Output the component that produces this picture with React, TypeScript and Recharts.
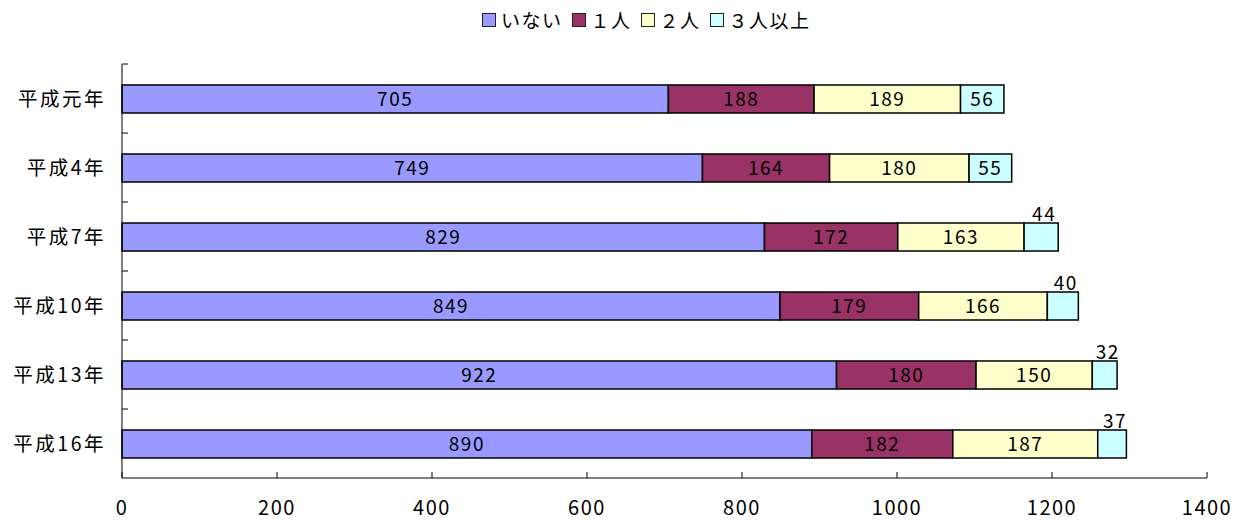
import { BarChart, Bar, XAxis, YAxis, Legend, LabelList } from "recharts";

const categories = ["平成元年", "平成4年", "平成7年", "平成10年", "平成13年", "平成16年"];
const seriesNames = ["いない", "１人", "２人", "３人以上"];
const none = [705, 749, 829, 849, 922, 890];
const one = [188, 164, 172, 179, 180, 182];
const two = [189, 180, 163, 166, 150, 187];
const threePlus = [56, 55, 44, 40, 32, 37];
const xTicks = [0, 200, 400, 600, 800, 1000, 1200, 1400];

const colors = ["#9999FF", "#993366", "#FFFFCC", "#CCFFFF"];
const font = '"Noto Sans CJK JP", "Noto Sans", sans-serif';

const W = 1241;
const H = 520;
const M = { top: 64, right: 34, bottom: 12, left: 0 };
const X_AXIS_H = 30;
const BAND = (H - M.top - M.bottom - X_AXIS_H) / categories.length;

const data = categories.map((name, i) => ({
  name,
  none: none[i],
  one: one[i],
  two: two[i],
  threePlus: threePlus[i],
}));

const XTick = ({ x, y, payload }: any) => (
  <g>
    <line x1={x} x2={x} y1={y} y2={y - 6} stroke="#000" />
    <text x={x} y={y + 37} textAnchor="middle" fontSize={20} letterSpacing={1.5} fontFamily={font} fill="#000">
      {payload.value}
    </text>
  </g>
);

const YTick = ({ x, y, payload }: any) => (
  <g>
    <line x1={x} x2={x + 6} y1={y - BAND / 2} y2={y - BAND / 2} stroke="#000" />
    <text x={x - 16} y={y} dy="0.36em" textAnchor="end" fontSize={19.5} letterSpacing={2.5} fontFamily={font} fill="#000">
      {payload.value}
    </text>
  </g>
);

const BarLabel = (props: any) => {
  const { x, y, width, height, value } = props;
  const small = width < 40;
  return (
    <text
      x={x + width / 2 + (small ? 3 : 0)}
      y={small ? y - 2 : y + height / 2}
      dy={small ? 0 : "0.36em"}
      textAnchor="middle"
      fontSize={19}
      letterSpacing={1.5}
      fontFamily={font}
      fill="#000"
    >
      {value}
    </text>
  );
};

const LegendContent = ({ payload }: any) => (
  <div style={{ display: "flex", alignItems: "center", fontFamily: font, fontSize: 19, letterSpacing: 1.5 }}>
    {(payload || []).map((p: any, i: number) => (
      <div key={i} style={{ display: "flex", alignItems: "center", marginRight: 9 }}>
        <span
          style={{
            display: "inline-block",
            width: 12,
            height: 12,
            background: p.color,
            border: "1.5px solid #222",
            marginRight: 5,
          }}
        />
        <span>{p.value}</span>
      </div>
    ))}
  </div>
);

export default function App() {
  const keys = ["none", "one", "two", "threePlus"];
  return (
    <div style={{ position: "absolute", left: 0, top: 0, width: W, height: H, background: "#fff" }}>
      <BarChart width={W} height={H} data={data} layout="vertical" margin={M}>
        <XAxis
          type="number"
          domain={[0, 1400]}
          ticks={xTicks}
          height={X_AXIS_H}
          axisLine={{ stroke: "#000" }}
          tickLine={false}
          tickSize={0}
          tickMargin={0}
          tick={<XTick />}
          interval={0}
        />
        <YAxis
          type="category"
          dataKey="name"
          width={122}
          axisLine={{ stroke: "#000" }}
          tickLine={false}
          tickSize={0}
          tickMargin={0}
          tick={<YTick />}
          interval={0}
        />
        <Legend
          verticalAlign="middle"
          align="center"
          layout="horizontal"
          wrapperStyle={{ top: 6, left: 482, width: "auto" }}
          content={<LegendContent />}
        />
        {keys.map((k, i) => (
          <Bar
            key={k}
            dataKey={k}
            name={seriesNames[i]}
            stackId="a"
            fill={colors[i]}
            stroke="#000"
            strokeWidth={1.5}
            barSize={28}
            isAnimationActive={false}
          >
            <LabelList dataKey={k} content={<BarLabel />} />
          </Bar>
        ))}
      </BarChart>
    </div>
  );
}
